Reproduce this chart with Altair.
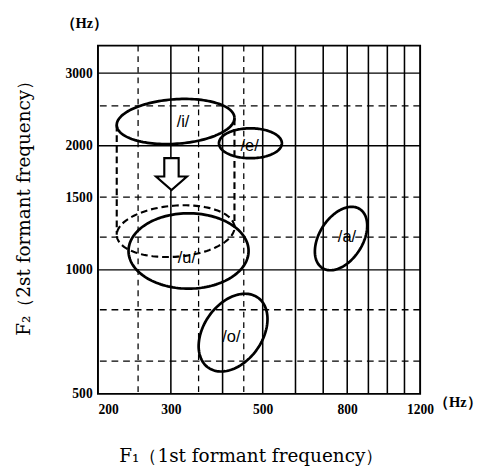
import numpy as np
import pandas as pd
import altair as alt

# ---- grid / axis values (Hz) ----
x_solid = [300, 400, 500, 600, 700, 800, 900, 1000, 1100]
x_dashed = [250, 350, 450]
y_solid = [3000, 2000, 1000]
y_dashed = [2500, 1500, 1200, 800, 600]
x_ticks = [200, 300, 500, 800, 1200]
y_ticks = [500, 1000, 1500, 2000, 3000]

# ---- vowel regions: centre (F1, F2 in Hz), semi-axes (decades), tilt (deg) ----
ell_names = ["/i/", "/e/", "/u/", "/a/", "/o/", "/i/ shifted"]
ell_cx = [308, 467, 331, 773, 424, 308]
ell_cy = [2290, 2028, 1111, 1191, 704, 1241]
ell_a = [0.1425, 0.076, 0.145, 0.0846, 0.104, 0.1425]
ell_b = [0.054, 0.0363, 0.0914, 0.0525, 0.0707, 0.062]
ell_ang = [4, 0, 0, 58, 55, 4.5]
ell_style = ["solid", "solid", "solid", "solid", "solid", "dashed"]

# ---- labels ----
lab_text = ["/i/", "/e/", "/u/", "/a/", "/o/"]
lab_f1 = [321, 465, 328, 799, 420]
lab_f2 = [2280, 2000, 1065, 1199, 688]

# ---- arrow (/i/ -> /u/) ----
arrow_f1 = [301]
arrow_f2 = [1707]

# build ellipse outlines in log space
t = np.linspace(0, 2 * np.pi, 145)
rows = []
outlines = {}
for n, cx, cy, a, b, ang, st in zip(ell_names, ell_cx, ell_cy, ell_a, ell_b, ell_ang, ell_style):
    th = np.deg2rad(ang)
    lx = np.log10(cx) + a * np.cos(t) * np.cos(th) - b * np.sin(t) * np.sin(th)
    ly = np.log10(cy) + a * np.cos(t) * np.sin(th) + b * np.sin(t) * np.cos(th)
    outlines[n] = (lx, ly)
    for i, (u, v) in enumerate(zip(lx, ly)):
        rows.append({"name": n, "i": i, "f1": 10 ** u, "f2": 10 ** v, "style": st})
ell_df = pd.DataFrame(rows)

# cylinder sides: from the extremes of /i/ down to the shifted copy
cyl_rows = []
lx_i, ly_i = outlines["/i/"]
lx_s, ly_s = outlines["/i/ shifted"]
for k, (fi, fs) in enumerate([(np.argmin(lx_i), np.argmin(lx_s)), (np.argmax(lx_i), np.argmax(lx_s))]):
    cyl_rows.append({"side": k, "i": 0, "f1": 10 ** lx_i[fi], "f2": 10 ** ly_i[fi]})
    cyl_rows.append({"side": k, "i": 1, "f1": 10 ** lx_i[fi], "f2": 10 ** ly_s[fs]})
cyl_df = pd.DataFrame(cyl_rows)

xscale = alt.Scale(type="log", domain=[200, 1200], nice=False)
yscale = alt.Scale(type="log", domain=[500, 3500], nice=False)

vg_s = pd.DataFrame({"f1": x_solid})
vg_d = pd.DataFrame({"f1": x_dashed})
hg_s = pd.DataFrame({"f2": y_solid})
hg_d = pd.DataFrame({"f2": y_dashed})

xaxis = alt.Axis(values=x_ticks, format="d", grid=False, ticks=False, tickSize=0, domain=False,
                 labelFlush=False, labelPadding=9,
                 labelAlign=alt.ExprRef(expr="datum.value == 200 ? 'left' : 'center'"),
                 title="F₁（1st formant frequency）", titleX=158, titleY=64,
                 titleBaseline="middle", titleAlign="center")
yaxis = alt.Axis(values=y_ticks, format="d", grid=False, ticks=False, tickSize=0, domain=False,
                 labelPadding=6,
                 title="F₂（2st formant frequency）", titleX=-77, titleY=163,
                 titleAngle=270, titleBaseline="middle", titleAlign="center")

vgrid_s = alt.Chart(vg_s).mark_rule(color="black", strokeWidth=1.6).encode(
    x=alt.X("f1:Q", scale=xscale, axis=xaxis))
vgrid_d = alt.Chart(vg_d).mark_rule(color="black", strokeWidth=1.3, strokeDash=[6, 5]).encode(
    x=alt.X("f1:Q", scale=xscale))
hgrid_s = alt.Chart(hg_s).mark_rule(color="black", strokeWidth=1.4).encode(
    y=alt.Y("f2:Q", scale=yscale, axis=yaxis))
hgrid_d = alt.Chart(hg_d).mark_rule(color="black", strokeWidth=1.3, strokeDash=[7, 5]).encode(
    y=alt.Y("f2:Q", scale=yscale))

ell_solid = alt.Chart(ell_df[ell_df["style"] == "solid"]).mark_line(
    color="black", strokeWidth=2.8
).encode(
    x=alt.X("f1:Q", scale=xscale),
    y=alt.Y("f2:Q", scale=yscale),
    detail="name:N",
    order="i:Q",
)
ell_dashed = alt.Chart(ell_df[ell_df["style"] == "dashed"]).mark_line(
    color="black", strokeWidth=2.2, strokeDash=[7, 4]
).encode(
    x=alt.X("f1:Q", scale=xscale),
    y=alt.Y("f2:Q", scale=yscale),
    detail="name:N",
    order="i:Q",
)

cyl = alt.Chart(cyl_df).mark_line(color="black", strokeDash=[7, 4], strokeWidth=2.2).encode(
    x=alt.X("f1:Q", scale=xscale),
    y=alt.Y("f2:Q", scale=yscale),
    detail="side:N",
    order="i:Q",
)

labels = alt.Chart(pd.DataFrame({"t": lab_text, "f1": lab_f1, "f2": lab_f2})).mark_text(
    font="Liberation Sans", fontSize=17, color="black"
).encode(
    x=alt.X("f1:Q", scale=xscale),
    y=alt.Y("f2:Q", scale=yscale),
    text="t:N",
)

arrow_path = "M -0.45 -1 L 0.45 -1 L 0.45 0.15 L 0.97 0.15 L 0 1 L -0.97 0.15 L -0.45 0.15 Z"
arrow = alt.Chart(pd.DataFrame({"f1": arrow_f1, "f2": arrow_f2})).mark_point(
    shape=arrow_path, size=1089, filled=True, fill="white", stroke="black",
    strokeWidth=2.2, opacity=1, fillOpacity=1
).encode(
    x=alt.X("f1:Q", scale=xscale),
    y=alt.Y("f2:Q", scale=yscale),
)

hz_top = alt.Chart(pd.DataFrame({"t": ["（Hz）"]})).mark_text(
    font="Liberation Serif", fontSize=15, fontWeight="bold", color="black"
).encode(x=alt.value(-14), y=alt.value(-23), text="t:N")
hz_right = alt.Chart(pd.DataFrame({"t": ["（Hz）"]})).mark_text(
    font="Liberation Serif", fontSize=15, fontWeight="bold", color="black"
).encode(x=alt.value(372), y=alt.value(369), text="t:N")

chart = alt.layer(vgrid_s, vgrid_d, hgrid_s, hgrid_d, ell_solid, ell_dashed, cyl,
                  arrow, labels, hz_top, hz_right).properties(
    width=333, height=360,
    autosize=alt.AutoSizeParams(type="none"),
    padding={"left": 93, "top": 31, "right": 65, "bottom": 76},
    background="white",
).configure_view(
    stroke="black", strokeWidth=2
).configure_axis(
    labelFont="Liberation Serif", labelFontSize=14, labelFontWeight="bold", labelColor="black",
    titleFont="DejaVu Serif", titleFontSize=19, titleFontWeight="normal", titleColor="black",
)

chart.save("out.html", embed_options={"renderer": "svg", "actions": False})
